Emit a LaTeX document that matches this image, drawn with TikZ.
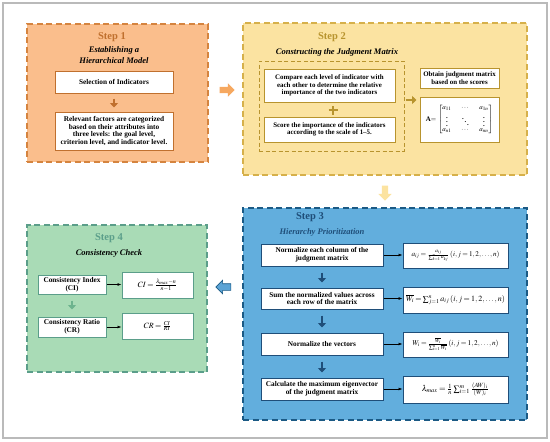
\documentclass[tikz,border=0pt]{standalone}
\usepackage{amsmath}
\usepackage{mathptmx}
\usepackage{fontspec}
\setmainfont{Liberation Serif}
\usetikzlibrary{shapes.arrows,calc,arrows.meta}

\definecolor{oneFill}{HTML}{FABE8C}
\definecolor{oneLine}{HTML}{D5843F}
\definecolor{oneDark}{HTML}{C0702E}
\definecolor{twoFill}{HTML}{FBE3A1}
\definecolor{twoLine}{HTML}{D6B04A}
\definecolor{twoDark}{HTML}{B8942E}
\definecolor{threeFill}{HTML}{62AEDD}
\definecolor{threeLine}{HTML}{1B5A85}
\definecolor{threeDark}{HTML}{1F4E79}
\definecolor{fourFill}{HTML}{A9DBB6}
\definecolor{fourLine}{HTML}{5B9E8A}
\definecolor{fourArrow}{HTML}{6DB38E}
\definecolor{bigOrange}{HTML}{F6A860}
\definecolor{bigYellow}{HTML}{FCE3A0}
\definecolor{bigBlue}{HTML}{5BA3D5}

\tikzset{
  stepbox/.style={draw, dash pattern=on 6pt off 3.5pt, line width=1.3pt, inner sep=0pt},
  txtbox/.style={draw, fill=white, line width=1pt, align=center, inner sep=0pt,
    font=\bfseries\fontsize{7.3}{7.7}\selectfont},
  smalltxt/.style={font=\bfseries\fontsize{6.9}{7.5}\selectfont},
  formula/.style={execute at begin node={\thickmuskip=3mu\medmuskip=2mu}},
  steptitle/.style={font=\bfseries\fontsize{10.5}{12}\selectfont},
  stepsub/.style={font=\bfseries\itshape\fontsize{8.5}{11}\selectfont, align=center},
  thickarr/.style={line width=2.4pt, -{Triangle[width=8pt,length=4.5pt]}},
  thinarr/.style={line width=0.6pt, -{Latex[length=4pt,width=3pt]}},
  bigarrow/.style={single arrow, minimum height=15pt, single arrow head extend=3.5pt, inner sep=3pt}
}

\begin{document}
\begin{tikzpicture}[x=1pt,y=1pt]
\useasboundingbox (0,0) rectangle (550,-442);
\draw [black!27, line width=1.2pt] (3,-3) rectangle (547,-438);

\node [stepbox, draw=oneLine, fill=oneFill, minimum width=181pt, minimum height=138pt] (s1) at (117.5,-93) {};
\node [stepbox, draw=twoLine, fill=twoFill, minimum width=284pt, minimum height=152pt] (s2) at (385,-99) {};
\node [stepbox, draw=threeLine, fill=threeFill, minimum width=284pt, minimum height=212pt] (s3) at (385,-314) {};
\node [stepbox, draw=fourLine, fill=fourFill, minimum width=180pt, minimum height=147pt] (s4) at (117,-298.5) {};

\node [steptitle, text=oneDark] (t1) at (112,-37) {Step 1};
\node [stepsub] (h1) at (114,-55.5) {Establishing a\\Hierarchical Model};
\node [txtbox, draw=oneDark, minimum width=118pt, minimum height=22pt] (sel) at (114,-82) {Selection of Indicators};
\node [txtbox, draw=oneDark, minimum width=118pt, minimum height=38pt] (rel) at (114,-131) {Relevant factors are categorized\\based on their attributes into\\three levels: the goal level,\\criterion level, and indicator level.};
\draw [thickarr, oneDark, shorten <=5pt, shorten >=4pt] (sel) -- (rel);

\node [steptitle, text=twoDark] (t2) at (332,-37) {Step 2};
\node [stepsub] (h2) at (337,-52) {Constructing the Judgment Matrix};
\node [draw=twoDark, dash pattern=on 4pt off 2.5pt, line width=1pt, minimum width=145pt, minimum height=90pt, inner sep=0pt] (g2) at (331.5,-106) {};
\node [txtbox, smalltxt, draw=twoDark, minimum width=131pt, minimum height=33pt] (cmp) at (329.5,-85.5) {Compare each level of indicator with\\each other to determine the relative\\importance of the two indicators};
\node [txtbox, smalltxt, draw=twoDark, minimum width=131pt, minimum height=25pt] (scr) at (329.5,-129.5) {Score the importance of the indicators\\according to the scale of 1--5.};
\coordinate (plus) at (333,-110);
\draw [twoDark, line width=2.6pt] ($(plus)+(-4.5,0)$) -- ($(plus)+(4.5,0)$);
\draw [twoDark, line width=2.6pt] ($(plus)+(0,-4.5)$) -- ($(plus)+(0,4.5)$);
\node [txtbox, smalltxt, draw=twoDark, minimum width=79pt, minimum height=20pt] (obt) at (459.5,-78) {Obtain judgment matrix\\based on the scores};
\node [txtbox, smalltxt, draw=twoDark, minimum width=79pt, minimum height=45pt] (mat) at (459.5,-119.5) {\renewcommand{\arraystretch}{0.75}A$=\begin{bmatrix} a_{11} & \cdots & a_{1n}\\ \vdots & \ddots & \vdots\\ a_{n1} & \cdots & a_{nn}\end{bmatrix}$};
\coordinate (m2) at (0,-100);
\draw [thickarr, twoDark, line width=2pt, shorten <=1pt, shorten >=3pt] (g2.east |- m2) -- (mat.west |- m2);

\node [steptitle, text=threeDark] (t3) at (310,-217) {Step 3};
\node [stepsub, text=threeDark] (h3) at (322,-232) {Hierarchy Prioritization};
\node [txtbox, draw=threeDark, minimum width=122pt, minimum height=22pt] (n1) at (322,-255) {Normalize each column of the\\judgment matrix};
\node [txtbox, draw=threeDark, minimum width=122pt, minimum height=21pt] (n2) at (322,-298.5) {Sum the normalized values across\\each row of the matrix};
\node [txtbox, draw=threeDark, minimum width=122pt, minimum height=22pt] (n3) at (322,-344) {Normalize the vectors};
\node [txtbox, draw=threeDark, minimum width=122pt, minimum height=22pt] (n4) at (322,-389) {Calculate the maximum eigenvector\\of the judgment matrix};
\node [txtbox, formula, draw=threeDark, minimum width=105pt, minimum height=25pt, font=\fontsize{7.2}{9}\selectfont] (f1) at (455.5,-255.5) {$a_{ij}=\frac{a_{ij}}{\sum_{k=1}^{n}a_{kj}}\,(i,j=1,2,\dots,n)$};
\node [txtbox, formula, draw=threeDark, minimum width=105pt, minimum height=26pt, font=\fontsize{8}{10}\selectfont] (f2) at (455.5,-300) {$\overline{W_i}=\sum_{j=1}^{n}a_{ij}\,(i,j=1,2,\dots,n)$};
\node [txtbox, formula, draw=threeDark, minimum width=105pt, minimum height=25pt, font=\fontsize{7.3}{9}\selectfont] (f3) at (455.5,-344.5) {$W_i=\frac{\overline{W_i}}{\sum_{i=1}^{n}\overline{W_i}}\,(i,j=1,2,\dots,n)$};
\node [txtbox, formula, draw=threeDark, minimum width=105pt, minimum height=27pt, font=\fontsize{8.5}{10}\selectfont] (f4) at (455.5,-389.5) {$\lambda_{max}=\frac{1}{n}\sum_{i=1}^{m}\frac{(AW)_i}{(W)_i}$};
\foreach \a/\b in {n1/n2,n2/n3,n3/n4}
  \draw [thickarr, threeDark, shorten <=6pt, shorten >=5pt] (\a) -- (\b);
\foreach \a/\b in {n1/f1,n2/f2,n3/f3,n4/f4}
  \draw [thinarr] (\a.east) -- (\a.east -| \b.west);

\node [steptitle, text=fourLine] (t4) at (109,-238) {Step 4};
\node [stepsub] (h4) at (109,-253) {Consistency Check};
\node [txtbox, draw=fourLine, minimum width=68pt, minimum height=19pt] (ci) at (72,-284.5) {Consistency Index\\(CI)};
\node [txtbox, draw=fourLine, minimum width=68pt, minimum height=20pt] (cr) at (72,-327) {Consistency Ratio\\(CR)};
\node [txtbox, formula, draw=fourLine, minimum width=71pt, minimum height=26pt, font=\fontsize{8}{9}\selectfont] (cif) at (157.5,-285) {$CI=\frac{\lambda_{max}-n}{n-1}$};
\node [txtbox, formula, draw=fourLine, minimum width=71pt, minimum height=26pt, font=\fontsize{8}{10}\selectfont] (crf) at (157.5,-326) {$CR=\frac{CI}{RI}$};
\draw [thickarr, fourArrow, shorten <=6pt, shorten >=7pt] (ci) -- (cr);
\draw [thinarr] (ci.east) -- (ci.east -| cif.west);
\draw [thinarr] (cr.east) -- (cr.east -| crf.west);

\coordinate (y12) at (0,-90);
\coordinate (y34) at (0,-287);
\node [bigarrow, fill=bigOrange] (ar12) at ($(s1.east |- y12)!0.5!(s2.west |- y12)$) {};
\node [bigarrow, fill=bigYellow, shape border rotate=270] (ar23) at ($(s2.south)!0.5!(s3.north)$) {};
\node [bigarrow, fill=bigBlue, draw=threeLine, line width=0.6pt, shape border rotate=180] (ar34) at ($(s4.east |- y34)!0.5!(s3.west |- y34)$) {};
\end{tikzpicture}
\end{document}
